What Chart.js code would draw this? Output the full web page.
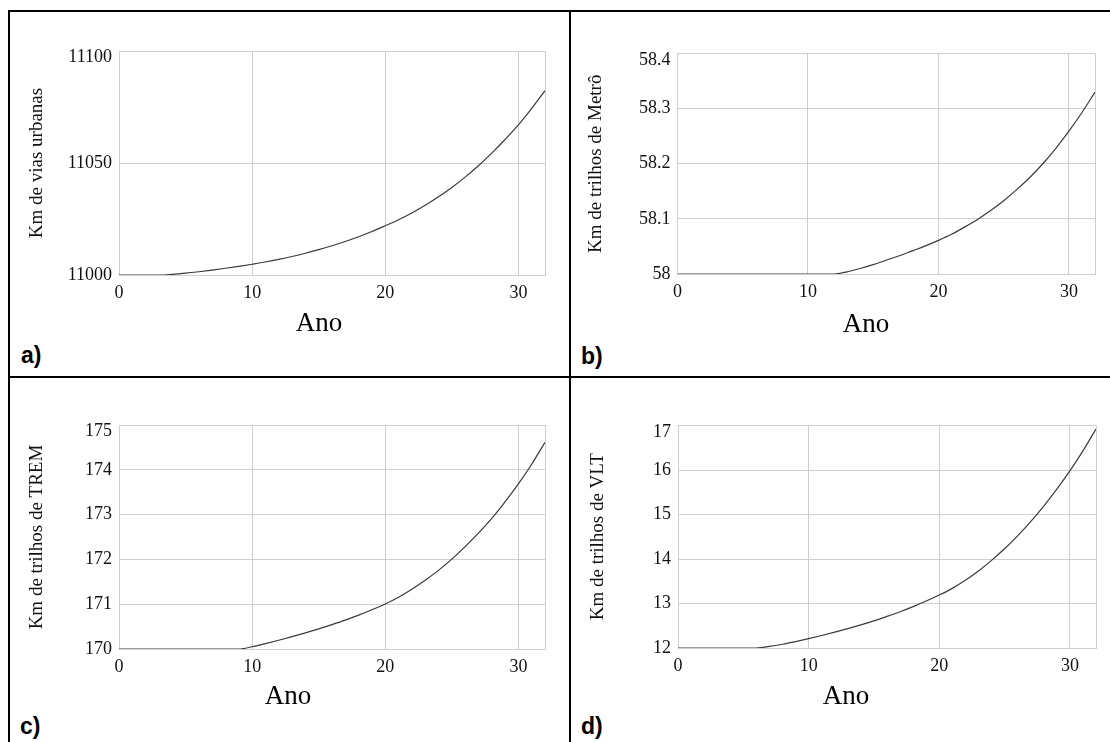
<!DOCTYPE html>
<html>
<head>
<meta charset="utf-8">
<script src="https://cdn.jsdelivr.net/npm/chart.js@4"></script>
<style>
  body { margin: 0; background: #fff; }
  #page { position: relative; width: 1110px; height: 742px; overflow: hidden; background: #fff; }
  canvas { position: absolute; }
  .rule { position: absolute; background: #000; }
  .ano { position: absolute; font: 27px "Liberation Serif", serif; line-height: 1; transform: translateX(-50%); color: #000; white-space: nowrap; }
  .tag { position: absolute; font: bold 23px "Liberation Sans", sans-serif; line-height: 1; color: #000; }
</style>
</head>
<body>
<div id="page">
  <div class="rule" style="left:8px;top:10px;width:1102px;height:2px"></div>
  <div class="rule" style="left:8px;top:10px;width:2px;height:732px"></div>
  <div class="rule" style="left:569px;top:10px;width:2px;height:732px"></div>
  <div class="rule" style="left:8px;top:376px;width:1102px;height:2px"></div>

  <canvas id="chartA"></canvas>
  <canvas id="chartB"></canvas>
  <canvas id="chartC"></canvas>
  <canvas id="chartD"></canvas>

  <div class="ano" style="left:319px;top:309px">Ano</div>
  <div class="ano" style="left:866px;top:310px">Ano</div>
  <div class="ano" style="left:288px;top:682px">Ano</div>
  <div class="ano" style="left:846px;top:682px">Ano</div>

  <div class="tag" style="left:21px;top:344px">a)</div>
  <div class="tag" style="left:581px;top:345px">b)</div>
  <div class="tag" style="left:20px;top:715px">c)</div>
  <div class="tag" style="left:581px;top:715px">d)</div>
</div>

<script>
const years = [0, 1, 2, 3, 4, 5, 6, 7, 8, 9, 10, 11, 12, 13, 14, 15, 16,
  17, 18, 19, 20, 21, 22, 23, 24, 25, 26, 27, 28, 29, 30, 31, 32];
const xTicks = [0, 10, 20, 30];

const viasUrbanas = [11000, 11000, 11000, 11000, 11000.3, 11000.8, 11001.45, 11002.2, 11003, 11003.85,
  11004.8, 11005.8, 11006.95, 11008.25, 11009.7, 11011.3, 11013.05, 11014.95, 11017.05, 11019.4,
  11022, 11024.7, 11027.7, 11031.1, 11034.9, 11039.1, 11043.7, 11048.8, 11054.4, 11060.5,
  11067, 11074.4, 11082.3];
const trilhosMetro = [58, 58, 58, 58, 58, 58, 58, 58, 58, 58, 58, 58, 58, 58.004, 58.010, 58.017,
  58.025, 58.033, 58.042, 58.051, 58.061, 58.072, 58.085, 58.099, 58.115, 58.133, 58.153, 58.175,
  58.200, 58.228, 58.259, 58.293, 58.330];
const trilhosTrem = [170, 170, 170, 170, 170, 170, 170, 170, 170, 170, 170.05, 170.12, 170.195,
  170.275, 170.36, 170.45, 170.545, 170.645, 170.755, 170.875, 171.005, 171.155, 171.335, 171.535,
  171.755, 172.005, 172.285, 172.585, 172.915, 173.285, 173.685, 174.125, 174.615];
const trilhosVlt = [12, 12, 12, 12, 12, 12, 12, 12.035, 12.085, 12.145, 12.21, 12.28, 12.355, 12.435,
  12.52, 12.61, 12.71, 12.815, 12.93, 13.055, 13.19, 13.34, 13.52, 13.73, 13.97, 14.23, 14.52, 14.84,
  15.19, 15.57, 15.98, 16.43, 16.92];

const ticksA = [11000, 11050, 11100];
const ticksB = [58, 58.1, 58.2, 58.3, 58.4];
const ticksC = [170, 171, 172, 173, 174, 175];
const ticksD = [12, 13, 14, 15, 16, 17];

const serif = '"Liberation Serif", "Times New Roman", serif';
const gridColor = '#cfcfcf';

function drawPanel(id, values, yTicks, title, box) {
  const canvas = document.getElementById(id);
  const w = box.x1 - box.left + 10;
  const h = box.y1 - box.top + 40;
  canvas.width = w;
  canvas.height = h;
  canvas.style.left = box.left + 'px';
  canvas.style.top = box.top + 'px';

  const last = yTicks.length - 1;

  new Chart(canvas.getContext('2d'), {
    type: 'line',
    data: {
      datasets: [{
        data: years.map((x, i) => ({ x: x, y: values[i] })),
        borderColor: '#3a3a3a',
        borderWidth: 1.2,
        pointRadius: 0,
        cubicInterpolationMode: 'monotone',
        fill: false
      }]
    },
    options: {
      responsive: false,
      animation: false,
      events: [],
      layout: { padding: { top: box.y0 - box.top, right: 10, bottom: 0, left: 0 } },
      plugins: { legend: { display: false }, tooltip: { enabled: false } },
      scales: {
        x: {
          type: 'linear',
          min: 0,
          max: 32,
          afterBuildTicks: s => { s.ticks = xTicks.concat([32]).map(v => ({ value: v })); },
          afterFit: s => { s.height = 40; },
          grid: { color: gridColor, drawTicks: false },
          border: { color: gridColor },
          ticks: {
            padding: 7,
            maxRotation: 0,
            autoSkip: false,
            color: '#111',
            font: { family: serif, size: 18 },
            callback: v => xTicks.includes(v) ? String(v) : ''
          }
        },
        y: {
          min: yTicks[0],
          max: yTicks[last],
          afterBuildTicks: s => { s.ticks = yTicks.map(v => ({ value: v })); },
          afterFit: s => { s.width = box.x0 - box.left; },
          grid: { color: gridColor, drawTicks: false },
          border: { color: gridColor },
          ticks: {
            padding: 7,
            autoSkip: false,
            color: '#111',
            font: ctx => ({ family: serif, size: 18, lineHeight: ctx.index === last ? 0.7 : 1.2 }),
            // the top label sits a little below its grid line in the source
            callback: (v, i) => i === last ? ['', String(v)] : String(v)
          },
          title: {
            display: true,
            text: title,
            color: '#111',
            font: { family: serif, size: 19 },
            padding: { top: box.titlePad, bottom: 0 }
          }
        }
      }
    }
  });
}

drawPanel('chartA', viasUrbanas, ticksA, 'Km de vias urbanas',
  { left: 12, top: 14, x0: 119, y0: 51, x1: 545, y1: 275, titlePad: 13.4 });
drawPanel('chartB', trilhosMetro, ticksB, 'Km de trilhos de Metrô',
  { left: 573, top: 14, x0: 677.5, y0: 53.5, x1: 1095, y1: 274, titlePad: 11.6 });
drawPanel('chartC', trilhosTrem, ticksC, 'Km de trilhos de TREM',
  { left: 12, top: 382, x0: 119, y0: 425, x1: 545, y1: 649, titlePad: 13.6 });
drawPanel('chartD', trilhosVlt, ticksD, 'Km de trilhos de VLT',
  { left: 573, top: 382, x0: 678, y0: 425.5, x1: 1096, y1: 648, titlePad: 13.6 });
</script>
</body>
</html>
